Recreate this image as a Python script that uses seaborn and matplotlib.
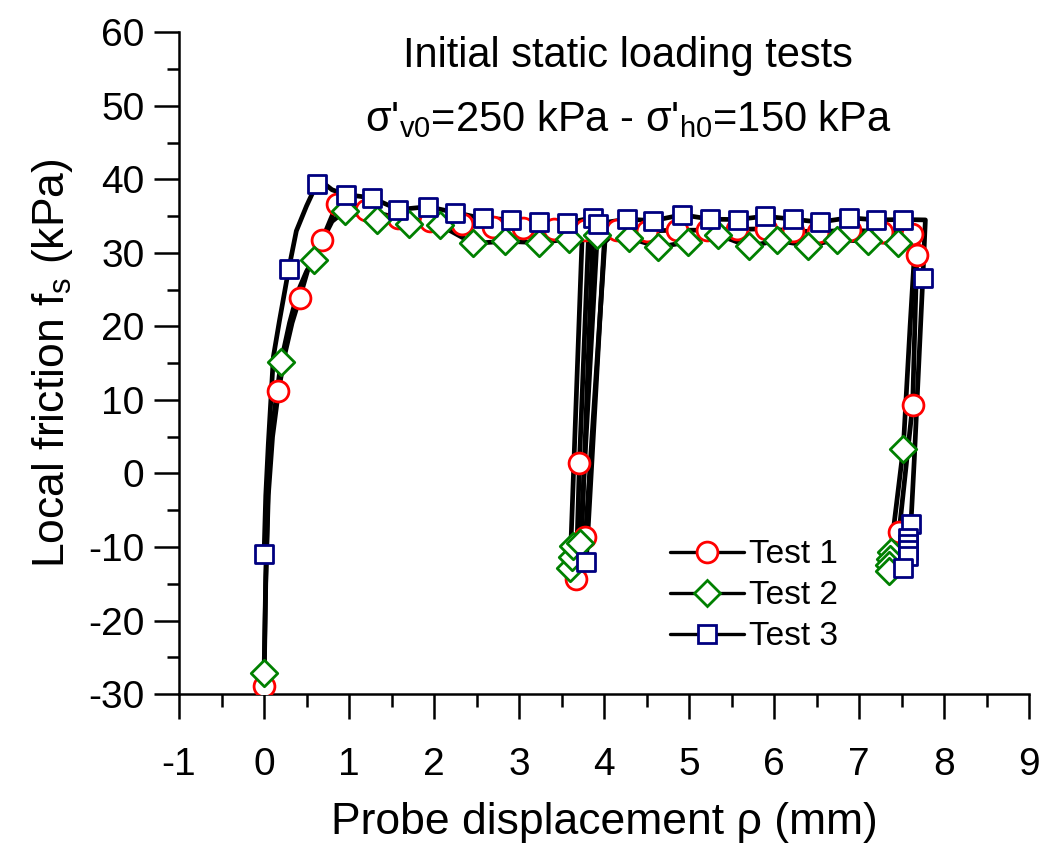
import matplotlib
matplotlib.use("Agg")
import matplotlib.pyplot as plt
from matplotlib.lines import Line2D
from matplotlib.ticker import MultipleLocator
import seaborn as sns

# =========================
# DATA
# =========================
# Test 1 - black line path
t1_line_x = [0.00, 0.02, 0.05, 0.10, 0.17, 0.25, 0.33, 0.42, 0.53, 0.68, 0.78, 0.86, 0.95,
             1.20, 1.57, 1.95, 2.33, 2.69, 3.05, 3.41, 3.77, 3.82, 3.71, 3.67, 3.78, 4.01,
             4.15, 4.50, 4.86, 5.21, 5.56, 5.91, 6.22, 6.52, 6.89, 7.27, 7.62, 7.71, 7.68,
             7.63, 7.47, 7.45]
t1_line_y = [-28.9, -15.0, -3.0, 5.0, 11.2, 16.5, 20.5, 23.9, 28.3, 31.7, 34.5, 36.7, 37.0,
             35.8, 34.8, 34.3, 34.0, 33.6, 33.4, 33.2, 33.1, 33.0, 1.4, -14.4, -8.7, 31.5,
             33.1, 33.0, 33.1, 33.1, 33.2, 33.3, 33.0, 32.9, 33.1, 32.9, 32.6, 33.2, 29.7,
             9.3, -8.0, -11.5]
# Test 1 - circle markers
t1_mark_x = [0.00, 0.17, 0.42, 0.68, 0.86, 1.20, 1.57, 1.95, 2.33, 2.69, 3.05, 3.41, 3.77,
             3.71, 3.67, 3.78, 4.15, 4.50, 4.86, 5.21, 5.56, 5.91, 6.22, 6.52, 6.89, 7.27,
             7.62, 7.68, 7.63, 7.47]
t1_mark_y = [-28.9, 11.2, 23.9, 31.7, 36.7, 35.8, 34.8, 34.3, 34.0, 33.6, 33.4, 33.2, 33.1,
             1.4, -14.4, -8.7, 33.1, 33.0, 33.1, 33.1, 33.2, 33.3, 33.0, 32.9, 33.1, 32.9,
             32.6, 29.7, 9.3, -8.0]

# Test 2 - black line path
t2_line_x = [0.00, 0.02, 0.05, 0.10, 0.20, 0.30, 0.40, 0.50, 0.59, 0.70, 0.80, 0.95, 1.33,
             1.71, 2.07, 2.46, 2.84, 3.23, 3.59, 3.74, 3.60, 3.62, 3.64, 3.72, 3.92, 4.29,
             4.64, 4.99, 5.34, 5.70, 6.04, 6.40, 6.74, 7.10, 7.46, 7.66, 7.60, 7.52, 7.40,
             7.37, 7.36, 7.35, 7.35]
t2_line_y = [-27.2, -14.0, -1.0, 6.5, 15.2, 20.5, 24.8, 27.5, 29.1, 32.0, 34.3, 35.7, 34.55,
             33.9, 33.8, 31.3, 31.6, 31.4, 31.9, 31.5, -12.8, -11.3, -9.8, -9.4, 32.4, 32.1,
             30.8, 31.5, 32.5, 30.9, 31.7, 31.0, 31.8, 31.6, 31.4, 31.5, 20.0, 3.4, -8.0,
             -10.7, -11.6, -12.4, -13.2]
# Test 2 - diamond markers
t2_mark_x = [0.00, 0.20, 0.59, 0.95, 1.33, 1.71, 2.07, 2.46, 2.84, 3.23, 3.59, 3.60, 3.62,
             3.64, 3.72, 3.92, 4.29, 4.64, 4.99, 5.34, 5.70, 6.04, 6.40, 6.74, 7.10, 7.46,
             7.52, 7.37, 7.36, 7.35, 7.35]
t2_mark_y = [-27.2, 15.2, 29.1, 35.7, 34.55, 33.9, 33.8, 31.3, 31.6, 31.4, 31.9, -12.8, -11.3,
             -9.8, -9.4, 32.4, 32.1, 30.8, 31.5, 32.5, 30.9, 31.7, 31.0, 31.8, 31.6, 31.4,
             3.4, -10.7, -11.6, -12.4, -13.2]

# Test 3 - black line path
t3_line_x = [0.00, 0.02, 0.05, 0.11, 0.18, 0.29, 0.38, 0.50, 0.62, 0.70, 0.80, 0.96, 1.27,
             1.58, 1.93, 2.25, 2.57, 2.91, 3.24, 3.56, 3.87, 3.86, 3.73, 3.79, 4.00, 3.93,
             4.27, 4.58, 4.92, 5.25, 5.57, 5.89, 6.22, 6.54, 6.88, 7.20, 7.52, 7.78, 7.75,
             7.65, 7.61, 7.58, 7.58, 7.57, 7.57, 7.52]
t3_line_y = [-11.0, -3.0, 4.0, 15.9, 20.7, 27.8, 33.0, 36.4, 39.4, 39.5, 38.6, 37.95, 37.5,
             35.9, 36.3, 35.5, 34.7, 34.55, 34.2, 34.1, 34.8, 30.0, -10.5, -12.1, 31.0, 34.0,
             34.6, 34.4, 35.2, 34.6, 34.55, 35.0, 34.6, 34.2, 34.8, 34.5, 34.55, 34.5, 26.6,
             2.0, -6.9, -8.8, -9.6, -10.4, -11.2, -12.8]
# Test 3 - square markers
t3_mark_x = [0.00, 0.29, 0.62, 0.96, 1.27, 1.58, 1.93, 2.25, 2.57, 2.91, 3.24, 3.56, 3.87,
             3.79, 3.93, 4.27, 4.58, 4.92, 5.25, 5.57, 5.89, 6.22, 6.54, 6.88, 7.20, 7.52,
             7.75, 7.61, 7.58, 7.58, 7.57, 7.57, 7.52]
t3_mark_y = [-11.0, 27.8, 39.4, 37.95, 37.5, 35.9, 36.3, 35.5, 34.7, 34.55, 34.2, 34.1, 34.8,
             -12.1, 34.0, 34.6, 34.4, 35.2, 34.6, 34.55, 35.0, 34.6, 34.2, 34.8, 34.5, 34.55,
             26.6, -6.9, -8.8, -9.6, -10.4, -11.2, -12.8]

labels = ["Test 1", "Test 2", "Test 3"]
x_ticks = [-1, 0, 1, 2, 3, 4, 5, 6, 7, 8, 9]
y_ticks = [-30, -20, -10, 0, 10, 20, 30, 40, 50, 60]

# =========================
# STYLE
# =========================
sns.set_style("ticks")
plt.rcParams["font.family"] = ["Liberation Sans", "DejaVu Sans"]
plt.rcParams["mathtext.fontset"] = "custom"
plt.rcParams["mathtext.rm"] = "Liberation Sans"
plt.rcParams["mathtext.it"] = "Liberation Sans:italic"
plt.rcParams["axes.unicode_minus"] = False
plt.rcParams["text.color"] = "black"
plt.rcParams["axes.labelcolor"] = "black"

fig = plt.figure(figsize=(10.44, 8.48), dpi=100)
ax = fig.add_axes([0.1715, 0.1816, 0.8142, 0.7801])

series = [
    (t1_line_x, t1_line_y, t1_mark_x, t1_mark_y, "o", "#ff0000", 15),
    (t2_line_x, t2_line_y, t2_mark_x, t2_mark_y, "D", "#008000", 13.5),
    (t3_line_x, t3_line_y, t3_mark_x, t3_mark_y, "s", "#000080", 13.5),
]

for lx, ly, mx, my, mk, col, ms in series:
    sns.lineplot(x=lx, y=ly, sort=False, estimator=None, color="black",
                 linewidth=3.4, ax=ax, zorder=2)
    sns.scatterplot(x=mx, y=my, marker=mk, s=ms ** 2, color="white",
                    edgecolor=col, linewidth=2.0, ax=ax, zorder=3)

# =========================
# AXES
# =========================
ax.set_xlim(-1, 9)
ax.set_ylim(-30, 60)
ax.set_xticks(x_ticks)
ax.set_yticks(y_ticks)
ax.xaxis.set_minor_locator(MultipleLocator(0.5))
ax.yaxis.set_minor_locator(MultipleLocator(5))
sns.despine(ax=ax)
for side in ["left", "bottom"]:
    ax.spines[side].set_linewidth(1.8)
    ax.spines[side].set_color("black")
ax.tick_params(which="major", length=18, width=1.8, direction="out", labelsize=28,
               colors="black")
ax.tick_params(which="minor", length=9, width=1.8, direction="out", colors="black")
ax.tick_params(axis="x", which="major", pad=20)
ax.tick_params(axis="y", which="major", pad=7)

ax.set_xlabel("Probe displacement ρ (mm)", fontsize=32, labelpad=14)
ax.set_ylabel("Local friction f$_\\mathregular{s}$ (kPa)", fontsize=32, labelpad=9)

ax.text(0.528, 0.965, "Initial static loading tests", transform=ax.transAxes,
        ha="center", va="center", fontsize=30)
ax.text(0.528, 0.869, "σ'$_\\mathregular{v0}$=250 kPa - σ'$_\\mathregular{h0}$=150 kPa",
        transform=ax.transAxes, ha="center", va="center", fontsize=30)

handles = [
    Line2D([], [], color="black", lw=2.4, marker=mk, ms=ms, mfc="white",
           mec=col, mew=2.0)
    for _, _, _, _, mk, col, ms in series
]
ax.legend(handles, labels, loc="upper left", bbox_to_anchor=(0.578, 0.234),
          frameon=False, fontsize=24, handlelength=2.2, handletextpad=0.15,
          labelspacing=0.3, borderpad=0, borderaxespad=0)

fig.savefig("out.png", dpi=100)
